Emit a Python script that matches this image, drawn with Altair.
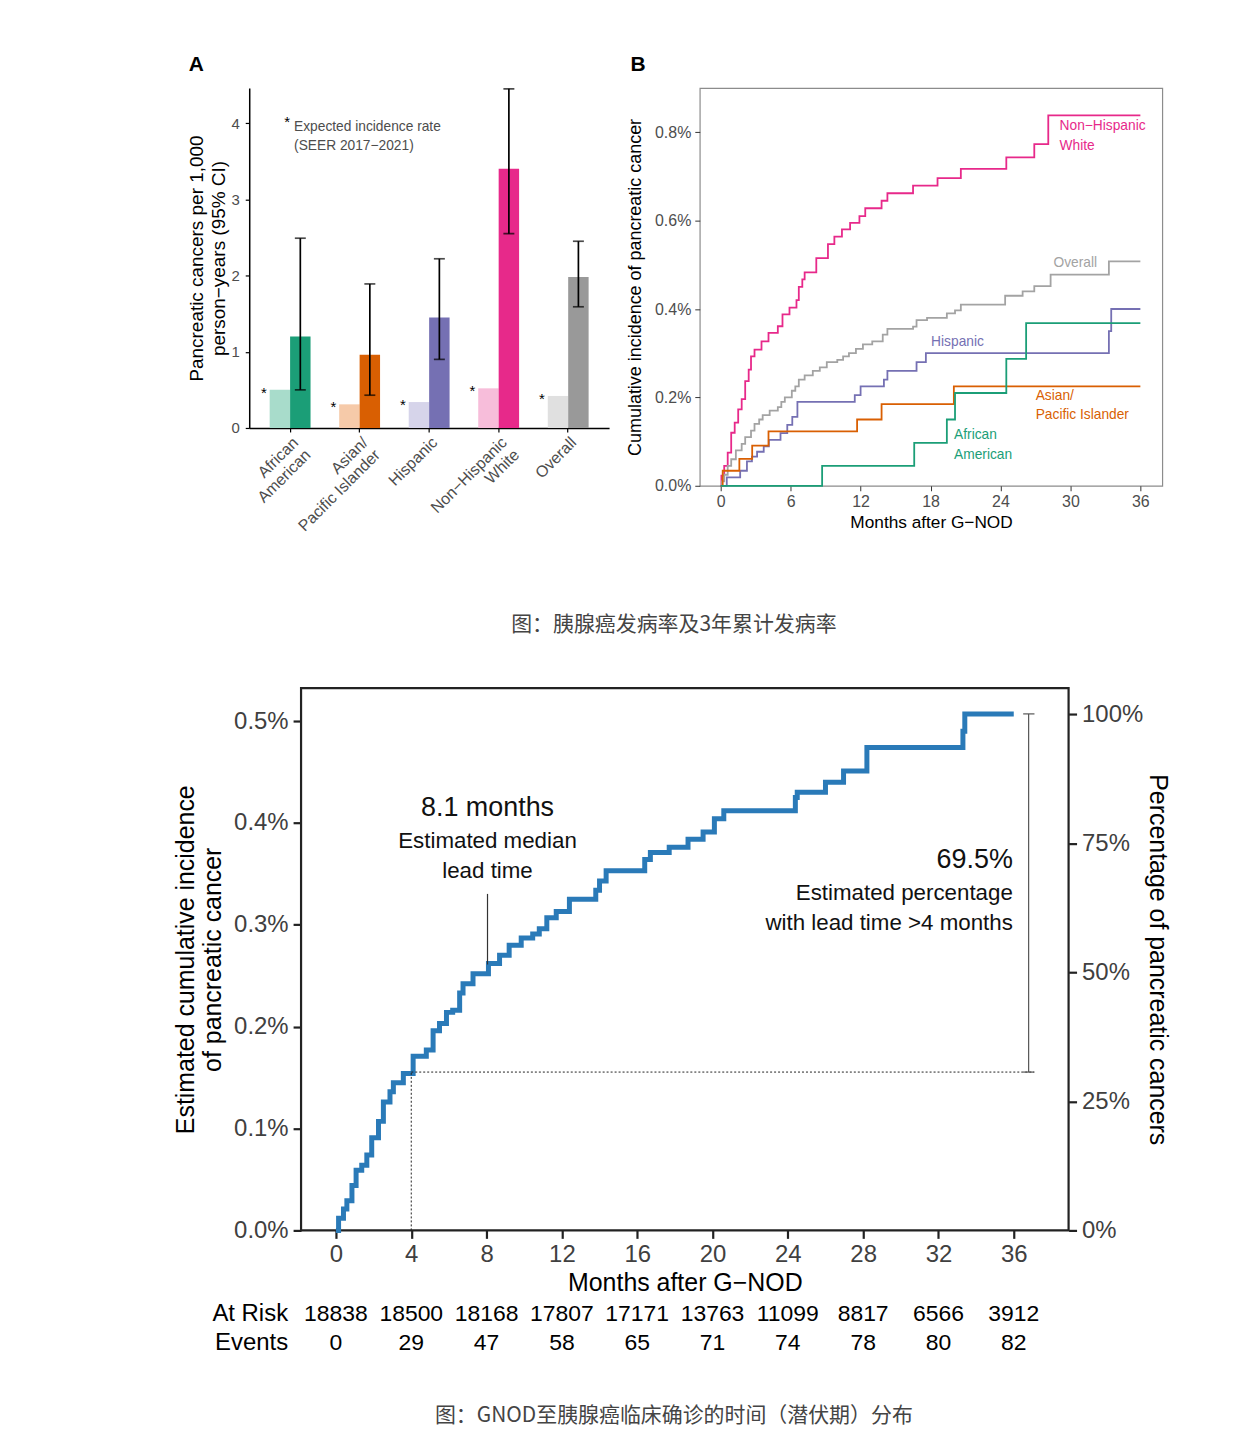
import altair as alt
import pandas as pd

FONT = "Liberation Sans"
CJK = "Noto Sans CJK SC"

# ---------------- Panel A : incidence rates ----------------
groups = ["African|American", "Asian/|Pacific Islander", "Hispanic", "Non−Hispanic|White", "Overall"]
expected_rate = [0.50, 0.31, 0.34, 0.52, 0.42]
observed_rate = [1.20, 0.96, 1.45, 3.40, 1.98]
ci_low = [0.50, 0.43, 0.90, 2.55, 1.59]
ci_high = [2.49, 1.89, 2.22, 4.45, 2.45]
dark_colors = ["#1b9e77", "#d95f02", "#7570b3", "#e7298a", "#999999"]
light_colors = ["#a8dccb", "#f6caa9", "#d6d4ea", "#f7bdda", "#e0e0e0"]
kinds = ["Expected", "Observed"]

# ---------------- Panel B : cumulative incidence by group ----------------
nhw_m = [0, 0.06, 0.3, 0.6, 0.9, 1.2, 1.5, 1.8, 2.1, 2.4, 2.6, 2.9, 3.5, 4.1, 4.9, 5.3, 5.9, 6.5, 6.7, 7.0, 7.2,
         8.2, 9.2, 9.75, 10.4, 11.1, 11.9, 12.4, 13.8, 14.3, 16.5, 18.6, 20.6, 24.5, 26.9, 28.1, 36]
nhw_v = [0, 0.023, 0.045, 0.075, 0.12, 0.143, 0.173, 0.196, 0.237, 0.263, 0.293, 0.308, 0.327, 0.346, 0.361,
         0.388, 0.403, 0.42, 0.45, 0.467, 0.483, 0.515, 0.547, 0.564, 0.58, 0.595, 0.61, 0.628, 0.645, 0.662,
         0.679, 0.696, 0.717, 0.743, 0.773, 0.838, 0.838]
ovr_m = [0, 0.1, 0.3, 0.6, 0.9, 1.3, 1.8, 2.1, 2.6, 2.9, 3.3, 3.6, 4.2, 4.9, 5.2, 5.5, 6.1, 6.4, 6.7, 7.2, 7.9,
         8.5, 9.1, 10.0, 10.5, 11.0, 11.6, 12.2, 13.0, 13.9, 14.3, 16.5, 16.8, 17.7, 19.4, 20.1, 20.6, 24.4,
         25.9, 26.9, 28.3, 33.3, 36]
ovr_v = [0, 0.01, 0.025, 0.045, 0.06, 0.08, 0.095, 0.11, 0.125, 0.14, 0.15, 0.16, 0.17, 0.178, 0.19, 0.2, 0.215,
         0.225, 0.24, 0.25, 0.26, 0.268, 0.28, 0.285, 0.293, 0.3, 0.31, 0.32, 0.327, 0.342, 0.355, 0.36, 0.375,
         0.38, 0.39, 0.397, 0.41, 0.43, 0.44, 0.452, 0.478, 0.508, 0.508]
his_m = [0, 0.52, 1.67, 2.25, 2.68, 3.12, 3.69, 4.13, 5.13, 5.71, 6.14, 6.58, 11.5, 12.0, 14.0, 14.3, 16.8, 17.6,
         33.3, 33.5, 36]
his_v = [0, 0.019, 0.034, 0.055, 0.066, 0.077, 0.089, 0.104, 0.119, 0.138, 0.156, 0.19, 0.205, 0.225, 0.24,
         0.26, 0.28, 0.3, 0.35, 0.4, 0.4]
api_m = [0, 0.17, 1.6, 2.7, 4.1, 11.7, 13.8, 20.0, 36]
api_v = [0, 0.034, 0.061, 0.091, 0.123, 0.15, 0.185, 0.225, 0.225]
aa_m = [0, 8.7, 16.6, 19.4, 20.1, 24.5, 26.2, 36]
aa_v = [0, 0.045, 0.097, 0.15, 0.21, 0.287, 0.368, 0.368]
b_series = ["Non-Hispanic White", "Overall", "Hispanic", "Asian/Pacific Islander", "African American"]
b_colors = ["#e7298a", "#a3a3a3", "#7570b3", "#d95f02", "#1b9e77"]
b_label_text = ["Non−Hispanic", "White", "Overall", "Hispanic", "Asian/", "Pacific Islander", "African", "American"]
b_label_series = ["Non-Hispanic White", "Non-Hispanic White", "Overall", "Hispanic", "Asian/Pacific Islander",
                  "Asian/Pacific Islander", "African American", "African American"]
b_label_m = [29.07, 29.07, 28.55, 18.05, 27.02, 27.02, 20.02, 20.02]
b_label_v = [0.8136, 0.7685, 0.5037, 0.3248, 0.2030, 0.1602, 0.1150, 0.0699]

# ---------------- Bottom : lead time ----------------
gnod_m = [0, 0.14, 0.4, 0.58, 0.85, 1.07, 1.37, 1.64, 1.9, 2.26, 2.52, 2.87, 3.05, 3.58, 4.1, 4.8, 5.16, 5.5,
          5.87, 6.2, 6.57, 6.75, 7.28, 8.1, 8.69, 9.2, 9.84, 10.45, 10.8, 11.2, 11.7, 12.4, 13.8, 14.0, 14.35,
          16.4, 16.7, 17.7, 18.7, 19.5, 20.1, 20.6, 24.4, 24.5, 26.0, 26.96, 28.2, 33.3, 33.4, 36]
gnod_v = [0, 0.012, 0.021, 0.029, 0.044, 0.059, 0.064, 0.074, 0.091, 0.107, 0.126, 0.136, 0.145, 0.154, 0.171,
          0.177, 0.196, 0.203, 0.214, 0.216, 0.233, 0.242, 0.252, 0.262, 0.27, 0.28, 0.287, 0.291, 0.296, 0.307,
          0.313, 0.325, 0.334, 0.343, 0.353, 0.364, 0.371, 0.376, 0.384, 0.391, 0.404, 0.412, 0.425, 0.43, 0.44,
          0.451, 0.474, 0.49, 0.507, 0.507]
risk_months = [0, 4, 8, 12, 16, 20, 24, 28, 32, 36]
at_risk = [18838, 18500, 18168, 17807, 17171, 13763, 11099, 8817, 6566, 3912]
events = [0, 29, 47, 58, 65, 71, 74, 78, 80, 82]
median_lead = 8.05
pct_at_4 = 0.1554
total_pct = 0.507

caption_top = "图：胰腺癌发病率及3年累计发病率"
caption_bottom = "图：GNOD至胰腺癌临床确诊的时间（潜伏期）分布"


def anchors(x0, y0, x1, y1):
    one = pd.DataFrame({"k": [0]})
    a = alt.Chart(one).mark_rect(color="white").encode(
        x=alt.value(x0), x2=alt.value(x0 + 1), y=alt.value(y0), y2=alt.value(y0 + 1))
    b = alt.Chart(one).mark_rect(color="white").encode(
        x=alt.value(x1 - 1), x2=alt.value(x1), y=alt.value(y1 - 1), y2=alt.value(y1))
    return [a, b]


def letter(txt, x, y):
    one = pd.DataFrame({"k": [0]})
    return alt.Chart(one).mark_text(text=txt, fontSize=21, fontWeight="bold", color="black",
                                    baseline="middle", align="center").encode(x=alt.value(x), y=alt.value(y))


# ======== Panel A ========
bar_rows, err_rows, cap_rows, star_rows = [], [], [], []
for g, e, o, lo, hi, dc, lc in zip(groups, expected_rate, observed_rate, ci_low, ci_high, dark_colors, light_colors):
    bar_rows.append({"group": g, "kind": "Expected", "rate": e, "key": g + "_E", "col": lc})
    bar_rows.append({"group": g, "kind": "Observed", "rate": o, "key": g + "_O", "col": dc})
    err_rows.append({"group": g, "kind": "Observed", "rate": lo, "rate2": hi})
    cap_rows.append({"group": g, "kind": "Observed", "rate": lo})
    cap_rows.append({"group": g, "kind": "Observed", "rate": hi})
    star_rows.append({"group": g, "kind": "Expected", "rate": e})
dfA = pd.DataFrame(bar_rows)
keys = list(dfA["key"])
cols = list(dfA["col"])

scA_y = alt.Scale(domain=[0, 4.46], nice=False)
scA_x = alt.Scale(paddingInner=0, paddingOuter=0.088)
xA_axis = alt.Axis(title="", labelExpr="split(datum.label, '|')", labelAngle=315, labelAlign="right",
                   labelBaseline="top", labelFontSize=16, labelColor="#4d4d4d", labelLineHeight=17.5,
                   labelPadding=2, tickSize=4, tickColor="black", tickWidth=1.2, domainColor="black",
                   domainWidth=1.5)
yA_axis = alt.Axis(values=[0, 1, 2, 3, 4], title=["Pancreatic cancers per 1,000", "person−years (95% CI)"],
                   titleX=-53, titleY=170.5, titleBaseline="middle", titleFontSize=19, titleLineHeight=22,
                   titleFontWeight="normal", titleColor="black", labelFontSize=15, labelColor="#4d4d4d",
                   tickSize=4, labelPadding=6, domainColor="black", domainWidth=1.5, tickColor="black",
                   tickWidth=1.2)
xA = alt.X("group:N", sort=groups, scale=scA_x, axis=xA_axis)
xoff = alt.XOffset("kind:N", sort=kinds, scale=alt.Scale(paddingInner=0, paddingOuter=0.701))
yA = alt.Y("rate:Q", scale=scA_y, axis=yA_axis)

bars = alt.Chart(dfA).mark_bar().encode(
    x=xA, xOffset=xoff, y=yA,
    color=alt.Color("key:N", scale=alt.Scale(domain=keys, range=cols), legend=None))
err = alt.Chart(pd.DataFrame(err_rows)).mark_rule(color="black", strokeWidth=1.7).encode(
    x=xA, xOffset=xoff, y=yA, y2="rate2:Q")
caps = alt.Chart(pd.DataFrame(cap_rows)).mark_tick(color="black", thickness=1.7, size=11).encode(
    x=xA, xOffset=xoff, y=yA)
stars = alt.Chart(pd.DataFrame(star_rows)).mark_text(text="*", fontSize=15, dx=-16, dy=8, baseline="alphabetic",
                                                     color="black").encode(x=xA, xOffset=xoff, y=yA)
noteA = pd.DataFrame({"label": ["Expected incidence rate", "(SEER 2017−2021)"], "rate": [3.948, 3.699]})
note_text = alt.Chart(noteA).mark_text(align="left", baseline="middle", fontSize=13.8, color="#4d4d4d").encode(
    x=alt.value(45), y=yA, text="label:N")
note_star = alt.Chart(pd.DataFrame({"rate": [4.016]})).mark_text(
    text="*", fontSize=15, baseline="middle", align="center", color="black").encode(x=alt.value(38), y=yA)

panelA = alt.layer(bars, err, caps, stars, note_text, note_star, letter("A", -53, -23),
                   *anchors(-241, -77, 371, 475)).properties(
    width=361, height=341, view=alt.ViewBackground(stroke="transparent"))

# ======== Panel B ========
series_data = [(nhw_m, nhw_v), (ovr_m, ovr_v), (his_m, his_v), (api_m, api_v), (aa_m, aa_v)]
brows = []
for name, (ms, vs) in zip(b_series, series_data):
    for m, v in zip(ms, vs):
        brows.append({"series": name, "m": m, "v": v})
dfB = pd.DataFrame(brows)
dfBl = pd.DataFrame({"label": b_label_text, "series": b_label_series, "m": b_label_m, "v": b_label_v})

scB_x = alt.Scale(domain=[-1.796, 37.88], nice=False)
scB_y = alt.Scale(domain=[0, 0.9], nice=False)
colB = alt.Color("series:N", scale=alt.Scale(domain=b_series, range=b_colors), legend=None)
xB = alt.X("m:Q", scale=scB_x,
           axis=alt.Axis(values=[0, 6, 12, 18, 24, 30, 36], title="Months after G−NOD", titleX=232, titleY=37,
                         titleBaseline="middle", titleFontSize=17.3, titleFontWeight="normal", titleColor="black",
                         domain=False, tickSize=5, tickColor="#333333", labelColor="#4d4d4d", labelFontSize=16,
                         labelPadding=3))
yB = alt.Y("v:Q", scale=scB_y,
           axis=alt.Axis(values=[0, 0.2, 0.4, 0.6, 0.8], labelExpr="format(datum.value, '.1f') + '%'",
                         title="Cumulative incidence of pancreatic cancer", titleX=-64, titleY=199.5,
                         titleBaseline="middle", titleFontSize=18, titleFontWeight="normal", titleColor="black",
                         domain=False, tickSize=5, tickColor="#333333", labelColor="#4d4d4d", labelFontSize=16,
                         labelPadding=4))
linesB = alt.Chart(dfB).mark_line(interpolate="step-after", strokeWidth=1.8).encode(x=xB, y=yB, color=colB)
labelsB = alt.Chart(dfBl).mark_text(align="left", baseline="middle", fontSize=13.8).encode(
    x=xB, y=yB, text="label:N", color=colB)
panelB = alt.layer(linesB, labelsB, letter("B", -62, -23), *anchors(-79, -77, 551, 475)).properties(
    width=464, height=399, view=alt.ViewBackground(stroke="#8c8c8c", strokeWidth=1.2))

# ======== Bottom chart ========
# Its view origin lines up with panel A's origin; the plotted frame starts G_SHIFT px to the right.
G_SHIFT = 52
G_W = 770
dfG = pd.DataFrame({"m": gnod_m, "v": gnod_v})
x_lo, x_hi = -1.853, 38.912
y_lo, y_hi = 0, 0.5323
scG_x = alt.Scale(domain=[x_lo, x_hi], nice=False, range=[G_SHIFT, G_SHIFT + G_W])
scG_y = alt.Scale(domain=[y_lo, y_hi], nice=False)
xG = alt.X("m:Q", scale=scG_x,
           axis=alt.Axis(values=risk_months, title="Months after G−NOD", titleX=G_SHIFT + 385, titleY=52,
                         titleBaseline="middle", titleFontSize=25, titleFontWeight="normal", titleColor="black",
                         domain=False, tickSize=8, tickWidth=2.2, tickColor="#222222", labelColor="#404040",
                         labelFontSize=24, labelPadding=4))
yG = alt.Y("v:Q", scale=scG_y,
           axis=alt.Axis(values=[0, 0.1, 0.2, 0.3, 0.4, 0.5], labelExpr="format(datum.value, '.1f') + '%'",
                         title=["Estimated cumulative incidence", "of pancreatic cancer"], titleX=-116,
                         titleY=272, titleBaseline="middle", titleFontSize=25, titleLineHeight=27,
                         titleFontWeight="normal", titleColor="black", domain=False, tickSize=8, tickWidth=2.2,
                         tickColor="#222222", labelColor="#404040", labelFontSize=24, labelPadding=5,
                         offset=-G_SHIFT))
curve = alt.Chart(dfG).mark_line(interpolate="step-after", strokeWidth=5, color="#2a7ab8").encode(x=xG, y=yG)

xg2 = alt.X("x:Q", scale=scG_x)
yg2 = alt.Y("y:Q", scale=scG_y)
frame = alt.Chart(pd.DataFrame({"x": [x_lo], "x2": [x_hi], "y": [y_lo], "y2": [y_hi]})).mark_rect(
    fill="transparent", stroke="#222222", strokeWidth=2.2).encode(x=xg2, x2="x2:Q", y=yg2, y2="y2:Q")
dot_v = alt.Chart(pd.DataFrame({"x": [4], "y": [0], "y2": [pct_at_4]})).mark_rule(
    color="#222222", strokeWidth=1, strokeDash=[2, 2]).encode(x=xg2, y=yg2, y2="y2:Q")
dot_h = alt.Chart(pd.DataFrame({"x": [4], "x2": [37.08], "y": [pct_at_4]})).mark_rule(
    color="#222222", strokeWidth=1, strokeDash=[2, 2]).encode(x=xg2, x2="x2:Q", y=yg2)
brk_v = alt.Chart(pd.DataFrame({"x": [36.79], "y": [pct_at_4], "y2": [total_pct]})).mark_rule(
    color="#555555", strokeWidth=1.2).encode(x=xg2, y=yg2, y2="y2:Q")
brk_c = alt.Chart(pd.DataFrame({"x": [36.5, 36.5], "x2": [37.1, 37.1], "y": [total_pct, pct_at_4]})).mark_rule(
    color="#555555", strokeWidth=1.2).encode(x=xg2, x2="x2:Q", y=yg2)
med = alt.Chart(pd.DataFrame({"x": [median_lead], "y": [0.261], "y2": [0.3303]})).mark_rule(
    color="#333333", strokeWidth=1.2).encode(x=xg2, y=yg2, y2="y2:Q")

ann_big = pd.DataFrame({"t": ["8.1 months", "69.5%"], "x": [median_lead, 35.95], "y": [0.4147, 0.364]})
ann_small = pd.DataFrame({"t": ["Estimated median", "lead time", "Estimated percentage", "with lead time >4 months"],
                          "x": [median_lead, median_lead, 35.95, 35.95], "y": [0.3826, 0.3523, 0.3307, 0.3014]})
t1 = alt.Chart(ann_big.iloc[[0]]).mark_text(fontSize=27, align="center", baseline="middle", color="#111111").encode(
    x=xg2, y=yg2, text="t:N")
t2 = alt.Chart(ann_big.iloc[[1]]).mark_text(fontSize=27, align="right", baseline="middle", color="#111111").encode(
    x=xg2, y=yg2, text="t:N")
t3 = alt.Chart(ann_small.iloc[0:2]).mark_text(fontSize=22.4, align="center", baseline="middle",
                                              color="#111111").encode(x=xg2, y=yg2, text="t:N")
t4 = alt.Chart(ann_small.iloc[2:4]).mark_text(fontSize=22.4, align="right", baseline="middle",
                                              color="#111111").encode(x=xg2, y=yg2, text="t:N")

dfT = pd.DataFrame({"m": risk_months, "risk": [str(v) for v in at_risk], "ev": [str(v) for v in events]})
row_risk = alt.Chart(dfT).mark_text(fontSize=23, baseline="middle", align="center", color="black").encode(
    x=alt.X("m:Q", scale=scG_x), y=alt.value(628), text="risk:N")
row_ev = alt.Chart(dfT).mark_text(fontSize=23, baseline="middle", align="center", color="black").encode(
    x=alt.X("m:Q", scale=scG_x), y=alt.value(657), text="ev:N")
one = pd.DataFrame({"k": [0]})
lab_risk = alt.Chart(one).mark_text(text="At Risk", fontSize=24, align="right", baseline="middle",
                                    color="black").encode(x=alt.value(G_SHIFT - 13), y=alt.value(628))
lab_ev = alt.Chart(one).mark_text(text="Events", fontSize=24, align="right", baseline="middle",
                                  color="black").encode(x=alt.value(G_SHIFT - 13), y=alt.value(657))
cap1 = alt.Chart(one).mark_text(text=caption_top, font=CJK, fontSize=21, align="center", baseline="middle",
                                color="#444444").encode(x=alt.value(G_SHIFT + 374), y=alt.value(-63))
cap2 = alt.Chart(one).mark_text(text=caption_bottom, font=CJK, fontSize=21, align="center", baseline="middle",
                                color="#444444").encode(x=alt.value(G_SHIFT + 374), y=alt.value(730))

left_layer = alt.layer(frame, curve, dot_v, dot_h, brk_v, brk_c, med, t1, t2, t3, t4, row_risk, row_ev,
                       lab_risk, lab_ev, cap1, cap2, *anchors(-241, -125, 1001, 760))

right_df = pd.DataFrame({"m": [0, 0], "p": [0, 100]})
right_layer = alt.Chart(right_df).mark_point(opacity=0).encode(
    x=alt.X("m:Q", scale=scG_x),
    y=alt.Y("p:Q", scale=alt.Scale(domain=[0, 105.02], nice=False),
            axis=alt.Axis(orient="right", values=[0, 25, 50, 75, 100], labelExpr="datum.value + '%'",
                          title="Percentage of pancreatic cancers", titleAngle=90, titleX=89, titleY=272,
                          titleBaseline="middle", titleFontSize=25, titleFontWeight="normal", titleColor="black",
                          domain=False, tickSize=8, tickWidth=2.2, tickColor="#222222", labelColor="#404040",
                          labelFontSize=24, labelPadding=5, offset=G_SHIFT)))

bottom = alt.layer(left_layer, right_layer).resolve_scale(y="independent").properties(
    width=G_W, height=544, view=alt.ViewBackground(stroke="transparent"))

top_row = alt.hconcat(panelA, panelB, spacing=0).resolve_scale(color="independent")
chart = alt.vconcat(top_row, bottom, spacing=0).properties(padding=0).configure(
    font=FONT).configure_axis(grid=False, labelFont=FONT, titleFont=FONT).configure_text(font=FONT)

chart.save("out.html", embed_options={"renderer": "svg", "actions": False})
